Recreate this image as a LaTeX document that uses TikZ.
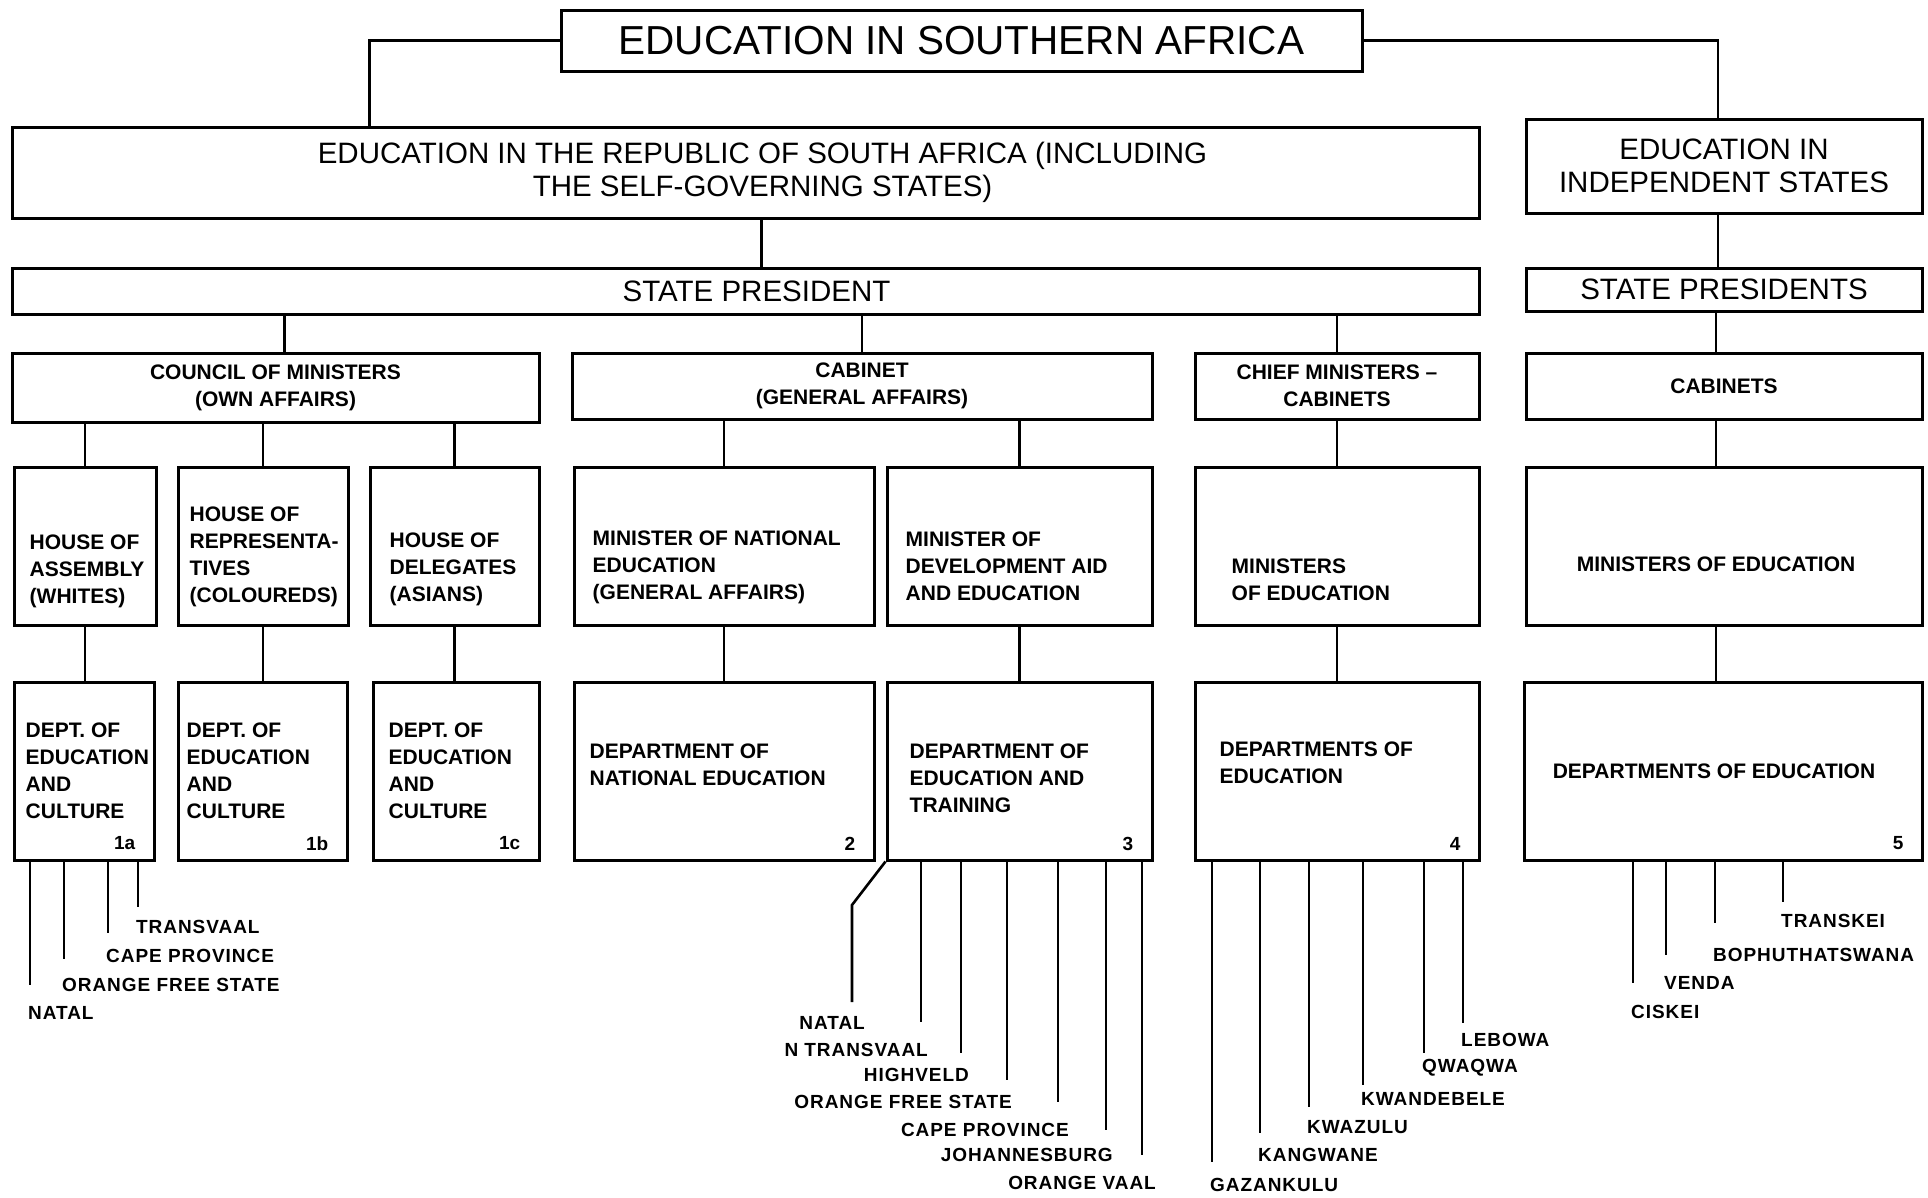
\documentclass[tikz,border=0pt]{standalone}
\usepackage{fontspec}
\setmainfont{Liberation Sans}
\newfontfamily\placefont[LetterSpace=5]{Liberation Sans}
\begin{document}
\begin{tikzpicture}[
	x=1pt, y=-1pt,
	every node/.style={align=center},
	box/.style={draw, line width=3pt, inner sep=0pt},
	link/.style={line width=2.6pt},
	headfont/.style={font=\fontsize{29.5}{33}\selectfont},
	smallfont/.style={font=\fontsize{21}{27}\selectfont\bfseries},
	rowbox/.style={box, minimum height=158},
	deptbox/.style={box, minimum height=178},
	boxtext/.style={smallfont, align=left, inner sep=0pt},
	placename/.style={font=\fontsize{19}{22}\selectfont\placefont\bfseries, inner sep=1pt},
	deptnum/.style={font=\fontsize{19}{22}\selectfont\bfseries, anchor=east, inner sep=0pt}
	]
	\useasboundingbox (0,0) rectangle (1928,1197);

	% top levels
	\node[box, minimum width=801, minimum height=61, font=\fontsize{40.5}{44}\selectfont] (title) at (961.5,40.5) {EDUCATION IN SOUTHERN AFRICA};
	\node[box, minimum width=1467, minimum height=91] (rsa) at (745.5,172.5) {};
	\node[headfont, inner sep=0pt] (rsa-t) at ([xshift=17pt]rsa) {EDUCATION IN THE REPUBLIC OF SOUTH AFRICA (INCLUDING\\THE SELF-GOVERNING STATES)};
	\node[box, headfont, minimum width=396, minimum height=94] (indep) at (1724,166) {EDUCATION IN\\INDEPENDENT STATES};
	\node[box, minimum width=1467, minimum height=46] (sp) at (745.5,291) {};
	\node[headfont, inner sep=0pt] (sp-t) at ([xshift=11pt]sp) {STATE PRESIDENT};
	\node[box, headfont, minimum width=396, minimum height=43] (sps) at (1724,289.5) {STATE PRESIDENTS};

	\node[box, smallfont, minimum width=527, minimum height=69] (council) at (275.5,387.5) {COUNCIL OF MINISTERS\\(OWN AFFAIRS)};
	\node[box, smallfont, minimum width=580, minimum height=66] (cabinet) at (862,386) {CABINET\\(GENERAL AFFAIRS)};
	\node[box, smallfont, minimum width=284, minimum height=66] (chief) at (1337,386) {CHIEF MINISTERS \textendash\\CABINETS};
	\node[box, smallfont, minimum width=396, minimum height=66] (cabinets) at (1724,386) {CABINETS};

	% houses and ministers
	\node[rowbox, minimum width=142] (hoa) at (85,546) {};
	\node[rowbox, minimum width=170] (hor) at (263,546) {};
	\node[rowbox, minimum width=169] (hod) at (454.5,546) {};
	\node[rowbox, minimum width=300] (mne) at (724,546) {};
	\node[rowbox, minimum width=265] (mda) at (1019.5,546) {};
	\node[rowbox, minimum width=284] (moe) at (1337,546) {};
	\node[rowbox, minimum width=396] (imoe) at (1724,546) {};

	\node[boxtext, anchor=west] (hoa-t) at ([xshift=17pt, yshift=-25pt]hoa.west) {HOUSE OF\\ASSEMBLY\\(WHITES)};
	\node[boxtext, anchor=west] (hor-t) at ([xshift=13pt, yshift=-11pt]hor.west) {HOUSE OF\\REPRESENTA-\\TIVES\\(COLOUREDS)};
	\node[boxtext, anchor=west] (hod-t) at ([xshift=21pt, yshift=-23pt]hod.west) {HOUSE OF\\DELEGATES\\(ASIANS)};
	\node[boxtext, anchor=west] (mne-t) at ([xshift=20pt, yshift=-21pt]mne.west) {MINISTER OF NATIONAL\\EDUCATION\\(GENERAL AFFAIRS)};
	\node[boxtext, anchor=west] (mda-t) at ([xshift=20pt, yshift=-20pt]mda.west) {MINISTER OF\\DEVELOPMENT AID\\AND EDUCATION};
	\node[boxtext, anchor=west] (moe-t) at ([xshift=38pt, yshift=-34pt]moe.west) {MINISTERS\\OF EDUCATION};
	\node[boxtext] (imoe-t) at ([xshift=-8pt, yshift=-18pt]imoe) {MINISTERS OF EDUCATION};

	% departments
	\node[deptbox, minimum width=140] (d1a) at (84,771) {};
	\node[deptbox, minimum width=169] (d1b) at (262.5,771) {};
	\node[deptbox, minimum width=166] (d1c) at (456,771) {};
	\node[deptbox, minimum width=300] (dne) at (724,771) {};
	\node[deptbox, minimum width=265] (det) at (1019.5,771) {};
	\node[deptbox, minimum width=284] (dce) at (1337,771) {};
	\node[deptbox, minimum width=398] (ide) at (1723,771) {};

	\node[boxtext, anchor=west] (d1a-t) at ([xshift=13pt]d1a.west) {DEPT. OF\\EDUCATION\\AND\\CULTURE};
	\node[boxtext, anchor=west] (d1b-t) at ([xshift=10pt]d1b.west) {DEPT. OF\\EDUCATION\\AND\\CULTURE};
	\node[boxtext, anchor=west] (d1c-t) at ([xshift=17pt]d1c.west) {DEPT. OF\\EDUCATION\\AND\\CULTURE};
	\node[boxtext, anchor=west] (dne-t) at ([xshift=17pt, yshift=6pt]dne.west) {DEPARTMENT OF\\NATIONAL EDUCATION};
	\node[boxtext, anchor=west] (det-t) at ([xshift=24pt, yshift=-7pt]det.west) {DEPARTMENT OF\\EDUCATION AND\\TRAINING};
	\node[boxtext, anchor=west] (dce-t) at ([xshift=26pt, yshift=8pt]dce.west) {DEPARTMENTS OF\\EDUCATION};
	\node[boxtext] (ide-t) at ([xshift=-9pt]ide) {DEPARTMENTS OF EDUCATION};

	\foreach \d/\n in {d1a/1a, d1b/1b, d1c/1c, dne/2, det/3, dce/4, ide/5}{
		\node[deptnum] (num-\n) at ([xshift=-20pt, yshift=18pt]\d.south east) {\n};
	}

	% connectors
	\draw[link] (title.west) -| ([xshift=359pt]rsa.north west);
	\draw[link] (title.east) -| ([xshift=-6pt]indep.north);
	\draw[link] ([xshift=16pt]rsa.south) -- ([xshift=16pt]sp.north);
	\draw[link] ([xshift=-6pt]indep.south) -- ([xshift=-6pt]sps.north);
	\draw[link] ([xshift=9pt]council.north |- sp.south) -- ([xshift=9pt]council.north);
	\draw[link] (cabinet.north |- sp.south) -- (cabinet.north);
	\draw[link] (chief.north |- sp.south) -- (chief.north);
	\draw[link] ([xshift=-8pt]sps.south) -- ([xshift=-8pt]cabinets.north);
	\foreach \h/\d in {hoa/d1a, hor/d1b, hod/d1c}{
		\draw[link] (council.south -| \h.north) -- (\h.north);
		\draw[link] (\h.south) -- (\h.south |- \d.north);
	}
	\foreach \m/\d in {mne/dne, mda/det}{
		\draw[link] (cabinet.south -| \m.north) -- (\m.north);
		\draw[link] (\m.south) -- (\m.south |- \d.north);
	}
	\draw[link] (chief) -- (moe);
	\draw[link] (moe) -- (dce);
	\draw[link] ([xshift=-8pt]cabinets.south) -- ([xshift=-8pt]imoe.north);
	\draw[link] ([xshift=-8pt]imoe.south) -- ([xshift=-8pt]imoe.south |- ide.north);

	% provinces and homelands
	\foreach \place/\x/\yend/\ylab [count=\i] in {NATAL/30/985/1013, ORANGE FREE STATE/64/959/985, CAPE PROVINCE/108/933/956, TRANSVAAL/138/907/927}{
		\coordinate (a\i) at (\x,\yend);
		\draw[link] (d1a.south -| a\i) -- (a\i);
		\node[placename, anchor=west] (pa\i) at (\x-3,\ylab) {\place};
	}

	\coordinate (b0) at (852,1002);
	\draw[link] (det.south west) -- ([yshift=97pt]b0) -- (b0);
	\node[placename, anchor=east] (pb0) at (866,1023) {NATAL};
	\foreach \place/\x/\yend/\ylab/\xlab [count=\i] in {N TRANSVAAL/921/1022/1050/927, HIGHVELD/961/1053/1075/968, ORANGE FREE STATE/1007/1080/1102/1011, CAPE PROVINCE/1058/1102/1130/1068, JOHANNESBURG/1106/1130/1155/1112, ORANGE VAAL/1142/1155/1183/1155}{
		\coordinate (b\i) at (\x,\yend);
		\draw[link] (det.south -| b\i) -- (b\i);
		\node[placename, anchor=east] (pb\i) at (\xlab+2,\ylab) {\place};
	}

	\foreach \place/\x/\yend/\ylab [count=\i] in {GAZANKULU/1212/1162/1185, KANGWANE/1260/1133/1155, KWAZULU/1309/1107/1127, KWANDEBELE/1363/1085/1099, QWAQWA/1424/1053/1068, LEBOWA/1463/1023/1040}{
		\coordinate (c\i) at (\x,\yend);
		\draw[link] (dce.south -| c\i) -- (c\i);
		\node[placename, anchor=west] (pc\i) at (\x-3,\ylab) {\place};
	}

	\foreach \place/\x/\yend/\ylab [count=\i] in {CISKEI/1633/983/1012, VENDA/1666/955/983, BOPHUTHATSWANA/1715/923/955, TRANSKEI/1783/902/921}{
		\coordinate (e\i) at (\x,\yend);
		\draw[link] (ide.south -| e\i) -- (e\i);
		\node[placename, anchor=west] (pe\i) at (\x-3,\ylab) {\place};
	}
\end{tikzpicture}
\end{document}
